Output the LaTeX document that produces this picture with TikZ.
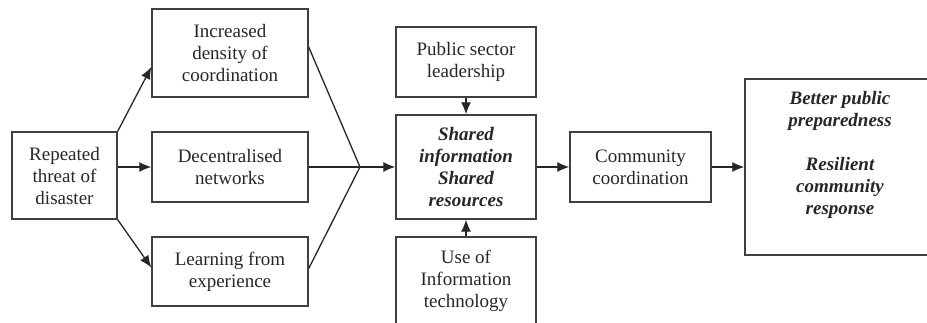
\documentclass[tikz,border=0pt]{standalone}
\usepackage{fontspec}
\setmainfont{Liberation Serif}
\usetikzlibrary{arrows.meta}
\tikzset{
    box/.style={draw=black!75, line width=1.4pt, align=center, inner sep=0pt, text=black!85, font=\fontsize{19}{22}\selectfont},
    boldbox/.style={box, font=\fontsize{19}{22}\selectfont\bfseries\itshape},
    arr/.style={draw=black!85, line width=1.3pt, -{Latex[length=12pt,width=10pt]}},
    lin/.style={draw=black!85, line width=1.3pt},
}
\begin{document}
\begin{tikzpicture}[x=1pt,y=-1pt]
    \useasboundingbox (0,0) rectangle (927,322);

    %Bokse
        \node[box, minimum width=105pt, minimum height=87pt] (threat) at (64.5,175.5) {Repeated\\threat of\\disaster};
        \node[box, minimum width=156pt, minimum height=88pt] (density) at (230,53) {Increased\\density of\\coordination};
        \node[box, minimum width=156pt, minimum height=70pt] (decent) at (230,167) {Decentralised\\networks};
        \node[box, minimum width=156pt, minimum height=69pt] (learning) at (230,271.5) {Learning from\\experience};
        \node[box, minimum width=140pt, minimum height=70pt] (public) at (466,62) {Public sector\\leadership};
        \node[boldbox, minimum width=140pt, minimum height=104pt] (shared) at (466,167) {Shared\\information\\Shared\\resources};
        \node[box, minimum width=140pt, minimum height=88pt] (itech) at (466,281) {Use of\\Information\\technology};
        \node[box, minimum width=141pt, minimum height=70pt] (commun) at (640.5,167) {Community\\coordination};
        \node[box, minimum width=190pt, minimum height=176pt] (better) at (840,167) {};
        \node[boldbox, draw=none] (outcome) at (840,155) {Better public\\preparedness\\[22pt]Resilient\\community\\response};

    %Piler
        \coordinate (meet) at (360,167);
        \draw[arr] (threat.north east) -- ([yshift=-14pt]density.west);
        \draw[arr] (threat.east |- decent.west) -- (decent.west);
        \draw[arr] (threat.south east) -- ([yshift=4pt]learning.west);
        \draw[lin] ([yshift=6pt]density.east) -- (meet);
        \draw[lin] (decent.east) -- (meet);
        \draw[lin] ([yshift=3pt]learning.east) -- (meet);
        \draw[arr] (meet) -- (shared.west);
        \draw[arr] (public) -- (shared);
        \draw[arr] (itech) -- (shared);
        \draw[arr] (shared) -- (commun);
        \draw[arr] (commun) -- (better);
\end{tikzpicture}
\end{document}
